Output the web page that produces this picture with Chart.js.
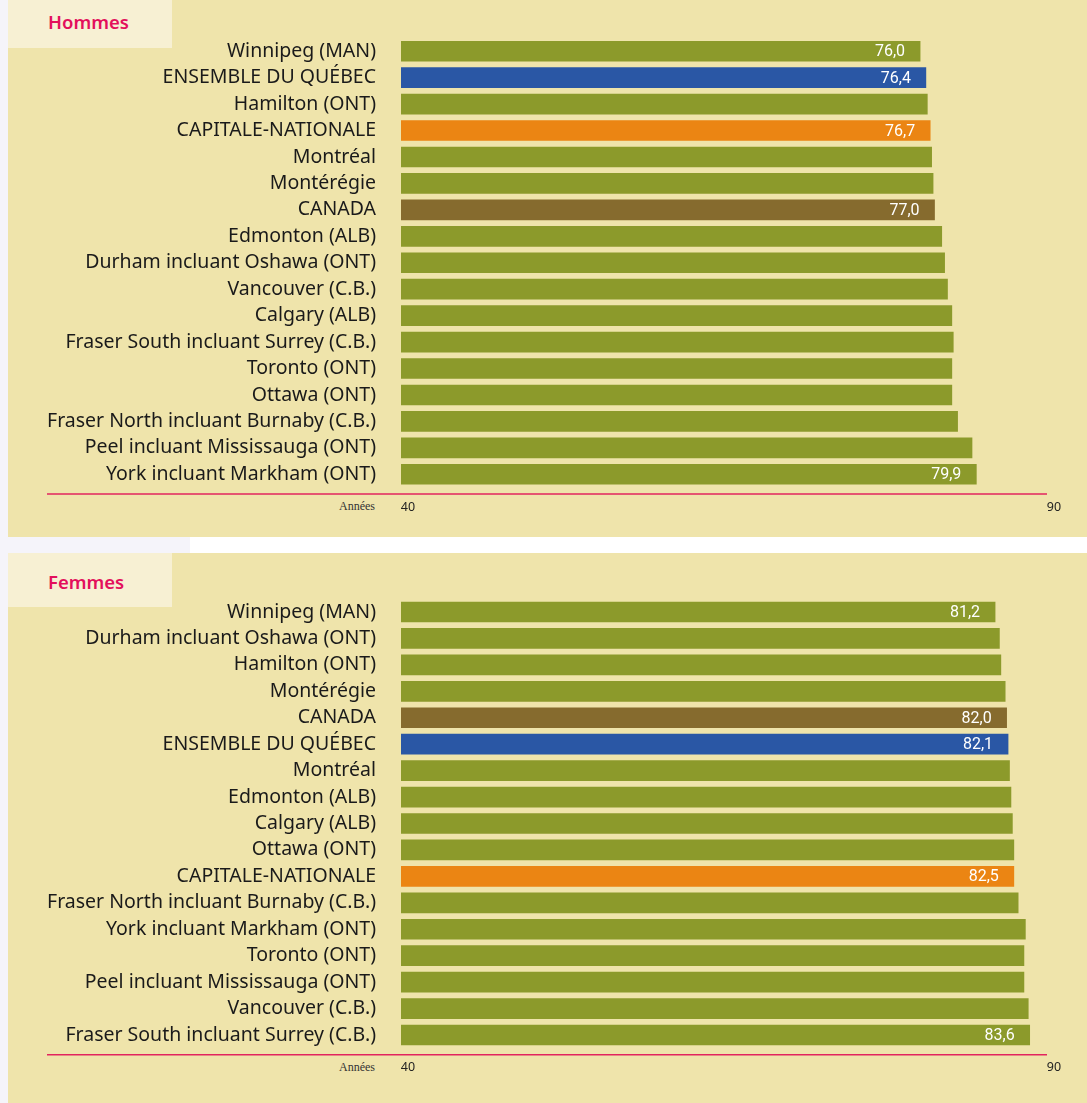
<!DOCTYPE html>
<html lang="fr">
<head>
<meta charset="utf-8">
<title>Espérance de vie à la naissance</title>
<script src="https://cdn.jsdelivr.net/npm/chart.js@4.4.1/dist/chart.umd.min.js"></script>
<style>
  body { margin: 0; width: 1087px; height: 1103px; background: #ffffff; position: relative; overflow: hidden; }
  .bande { position: absolute; background: #F5F4FA; }
  .panneau { position: absolute; left: 8px; width: 1079px; background: #EFE4AB; }
  .onglet { position: absolute; left: 8px; width: 164px; background: #F7F0D3; }
  .titre { position: absolute; left: 48px; font: 600 18.5px "Noto Sans", sans-serif; color: #E3105C; }
  .annees { position: absolute; right: 712px; font: 12px "Liberation Serif", serif; color: #333; }
  canvas { position: absolute; left: 0; }
</style>
</head>
<body>
<div class="bande" style="left:0;top:0;width:8px;height:1103px"></div>
<div class="bande" style="left:8px;top:537px;width:182px;height:16px"></div>

<div class="panneau" style="top:0;height:537px"></div>
<div class="onglet" style="top:0;height:48px"></div>
<div class="titre" style="top:9px">Hommes</div>
<div class="annees" style="top:499px">Années</div>

<div class="panneau" style="top:553px;height:550px"></div>
<div class="onglet" style="top:553px;height:54px"></div>
<div class="titre" style="top:569px">Femmes</div>
<div class="annees" style="top:1060px">Années</div>

<canvas id="hommes" width="1087" height="537" style="top:0"></canvas>
<canvas id="femmes" width="1087" height="550" style="top:553px"></canvas>

<script>
// Données
const hommesRegions = [
    'Winnipeg (MAN)', 'ENSEMBLE DU QUÉBEC', 'Hamilton (ONT)', 'CAPITALE-NATIONALE',
    'Montréal', 'Montérégie', 'CANADA', 'Edmonton (ALB)', 'Durham incluant Oshawa (ONT)',
    'Vancouver (C.B.)', 'Calgary (ALB)', 'Fraser South incluant Surrey (C.B.)',
    'Toronto (ONT)', 'Ottawa (ONT)', 'Fraser North incluant Burnaby (C.B.)',
    'Peel incluant Mississauga (ONT)', 'York incluant Markham (ONT)'
];
const hommesValeurs = [76.0, 76.4, 76.5, 76.7, 76.8, 76.9, 77.0, 77.5, 77.7, 77.9, 78.2, 78.3, 78.2, 78.2, 78.6, 79.6, 79.9];
const hommesAffiches = ['Winnipeg (MAN)', 'ENSEMBLE DU QUÉBEC', 'CAPITALE-NATIONALE', 'CANADA', 'York incluant Markham (ONT)'];

const femmesRegions = [
    'Winnipeg (MAN)', 'Durham incluant Oshawa (ONT)', 'Hamilton (ONT)', 'Montérégie',
    'CANADA', 'ENSEMBLE DU QUÉBEC', 'Montréal', 'Edmonton (ALB)', 'Calgary (ALB)',
    'Ottawa (ONT)', 'CAPITALE-NATIONALE', 'Fraser North incluant Burnaby (C.B.)',
    'York incluant Markham (ONT)', 'Toronto (ONT)', 'Peel incluant Mississauga (ONT)',
    'Vancouver (C.B.)', 'Fraser South incluant Surrey (C.B.)'
];
const femmesValeurs = [81.2, 81.5, 81.6, 81.9, 82.0, 82.1, 82.2, 82.3, 82.4, 82.5, 82.5, 82.8, 83.3, 83.2, 83.2, 83.5, 83.6];
const femmesAffiches = ['Winnipeg (MAN)', 'CANADA', 'ENSEMBLE DU QUÉBEC', 'CAPITALE-NATIONALE', 'Fraser South incluant Surrey (C.B.)'];

// Étiquettes de l'axe des années (début et fin de l'axe)
const axeMin = 40;
const axeMax = 84.8;
const etiquettesAxe = ['40', '90'];

// Couleurs des barres mises en évidence
const couleurs = {
    'ENSEMBLE DU QUÉBEC': '#2A57A5',
    'CAPITALE-NATIONALE': '#EB8513',
    'CANADA': '#866B2E'
};
const vert = '#8C9A2B';

// Plugin: ligne rouge de l'axe et valeurs dans les barres
const decorations = {
    id: 'decorations',
    afterDatasetsDraw(chart, args, opts) {
        const { ctx, chartArea } = chart;
        ctx.save();
        ctx.strokeStyle = '#E2245E';
        ctx.lineWidth = 1.5;
        ctx.beginPath();
        ctx.moveTo(47, chartArea.bottom + 6.5);
        ctx.lineTo(chartArea.right, chartArea.bottom + 6.5);
        ctx.stroke();

        ctx.fillStyle = '#ffffff';
        ctx.font = '16px "Liberation Sans Narrow", "Roboto", sans-serif';
        ctx.textAlign = 'right';
        ctx.textBaseline = 'middle';
        const meta = chart.getDatasetMeta(0);
        chart.data.labels.forEach((lab, i) => {
            if (!opts.affiches.includes(lab)) return;
            const bar = meta.data[i];
            const v = chart.data.datasets[0].data[i].toFixed(1).replace('.', ',');
            ctx.fillText(v, bar.x - 15, bar.y + 1);
        });
        ctx.restore();
    }
};

function creerGraphique(id, regions, valeurs, affiches, haut, hautAxe) {
    return new Chart(document.getElementById(id), {
        type: 'bar',
        data: {
            labels: regions,
            datasets: [{
                data: valeurs,
                backgroundColor: regions.map(r => couleurs[r] || vert),
                barThickness: 20
            }]
        },
        options: {
            indexAxis: 'y',
            responsive: false,
            animation: false,
            layout: { padding: { top: haut, right: 40, left: 0, bottom: 0 } },
            plugins: {
                legend: { display: false },
                tooltip: { enabled: false },
                decorations: { affiches: affiches }
            },
            scales: {
                x: {
                    type: 'linear',
                    min: axeMin,
                    max: axeMax,
                    grid: { display: false },
                    border: { display: false },
                    afterBuildTicks: scale => { scale.ticks = [{ value: axeMin }, { value: axeMax }]; },
                    afterFit: scale => { scale.height = hautAxe; },
                    ticks: {
                        padding: 4,
                        labelOffset: 7,
                        maxRotation: 0,
                        color: '#222',
                        font: { family: '"Noto Sans", sans-serif', size: 12.5 },
                        callback: (v, i) => etiquettesAxe[i]
                    }
                },
                y: {
                    grid: { display: false },
                    border: { display: false },
                    afterFit: scale => { scale.width = 401; },
                    ticks: {
                        padding: 17,
                        autoSkip: false,
                        color: '#1a1a1a',
                        font: { family: '"Noto Sans", sans-serif', size: 19.5 }
                    }
                }
            }
        },
        plugins: [decorations]
    });
}

creerGraphique('hommes', hommesRegions, hommesValeurs, hommesAffiches, 38, 49.5);
creerGraphique('femmes', femmesRegions, femmesValeurs, femmesAffiches, 45.8, 54.8);
</script>
</body>
</html>
